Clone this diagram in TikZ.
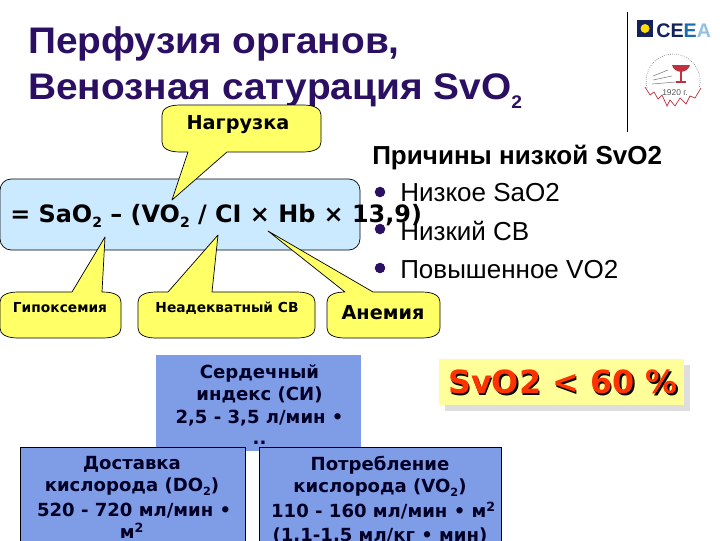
\documentclass[tikz,border=0pt]{standalone}
\usepackage{fontspec}
\setmainfont{Liberation Sans}
\newfontfamily\dejafont{DejaVu Sans}
\newfontfamily\titlefont[FakeStretch=1.05]{Liberation Sans}
\definecolor{titlepurple}{HTML}{2B0F62}
\definecolor{formulablue}{HTML}{CCEAFF}
\definecolor{calloutyellow}{HTML}{FFFF66}
\definecolor{panelblue}{HTML}{7F9CE6}
\definecolor{notepale}{HTML}{FFFF99}
\definecolor{notered}{HTML}{FF3300}
\definecolor{ceeanavy}{HTML}{14215A}
\definecolor{ceeablue}{HTML}{1B6DB3}
\definecolor{ceeasky}{HTML}{8FC1E8}
\definecolor{sealred}{HTML}{C0303F}
\tikzset{
  titletext/.style  = {anchor=base west, inner sep=0pt, text=titlepurple,
                       font=\titlefont\fontsize{26.3}{33}\selectfont\bfseries},
  listtext/.style   = {anchor=base west, inner sep=0pt, font=\fontsize{18.5}{22}\selectfont},
  listdot/.style    = {circle, fill=titlepurple, inner sep=0pt, minimum size=7.5pt},
  callout/.style    = {draw=black, fill=calloutyellow, line width=0.5pt, line join=round},
  tagtext/.style    = {inner sep=0pt, font=\dejafont\fontsize{9.8}{12}\selectfont\bfseries},
  bigtag/.style     = {inner sep=0pt, font=\dejafont\fontsize{13.7}{16}\selectfont\bfseries},
  panel/.style      = {draw=black, fill=panelblue, line width=0.5pt},
  paneltext/.style  = {anchor=north, inner sep=0pt, align=center, text=black!85!blue,
                       font=\dejafont\fontsize{12.85}{15.7}\selectfont\bfseries},
}
% small lowered index
\newcommand\lowtwo[2]{\raisebox{-#2}{\fontsize{#1}{#1}\selectfont 2}}
% body left/right/near edge/far edge, tail ends, tip, corner height
\newcommand\calloutpath[8]{
  \draw[callout] (#7) -- (#6,#3) -- (#2-18,#3) .. controls (#2-6,#3) and (#2,#3+0.4*#8) .. (#2,#3+#8)
      -- (#2,#4-#8) .. controls (#2,#4-0.4*#8) and (#2-6,#4) .. (#2-18,#4)
      -- (#1+18,#4) .. controls (#1+6,#4) and (#1,#4-0.4*#8) .. (#1,#4-#8)
      -- (#1,#3+#8) .. controls (#1,#3+0.4*#8) and (#1+6,#3) .. (#1+18,#3) -- (#5,#3) -- cycle;
}
\begin{document}
\begin{tikzpicture}[x=0.025cm,y=-0.025cm]
  \useasboundingbox (0,0) rectangle (720,540);
  \clip (0,0) rectangle (720,540);
  \fill[white] (0,0) rectangle (720,540);
  % title
  \node[titletext] (title1) at (28,53) {Перфузия органов,};
  \node[titletext] (title2) at (28,99) {Венозная сатурация SvO\lowtwo{13}{6.5pt}};
  % logos
  \draw[line width=0.7pt] (627,12) -- (627,132);
  \fill[ceeanavy] (637,20) rectangle (653,37);
  \fill[yellow!80!orange] (645,28.5) circle (4.5);
  \node[anchor=base west,inner sep=0pt,font=\fontsize{14}{16}\selectfont\bfseries] (ceea) at (656,37)
      {\textcolor{ceeanavy}{CE}\textcolor{ceeablue}{E}\textcolor{ceeasky}{A}};
  \draw[gray,densely dotted,line width=0.5pt] (647,88) arc (165:375:27);
  \draw[gray,line width=0.4pt] (653,76) -- (668,70) (653,80) -- (672,76) (652,84) -- (676,82);
  \fill[sealred] (672,65) .. controls (674,74) and (688,74) .. (690,65) -- cycle;
  \draw[sealred,line width=1pt] (681,70) -- (681,82) (676,82) -- (686,82);
  \draw[sealred,line width=0.5pt] (645,87) -- (650,95) -- (654,92) -- (658,99) -- (662,95) -- (667,106)
      -- (670,100) -- (675,106) -- (680,98) -- (686,104) -- (690,96) -- (695,98) -- (701,88);
  \node[inner sep=0pt,text=gray!70!black,font=\fontsize{6}{7}\selectfont] (year) at (675,93) {1920 г.};
  % formula box and its callouts
  \draw[fill=formulablue,line width=0.5pt,rounded corners=8pt] (0,179) rectangle (360,250);
  \calloutpath{162}{321}{152}{105}{188}{227}{172,200}{-10}
  \calloutpath{0}{121}{292}{338}{72}{102}{105,237}{10}
  \calloutpath{138}{315}{292}{338}{168}{212}{218,235}{10}
  \calloutpath{327}{440}{292}{338}{345}{373}{268,231}{10}
  \node[bigtag] (load) at (238,125) {Нагрузка};
  \node[tagtext] (hypoxia) at (60,308) {Гипоксемия};
  \node[tagtext] (lowco) at (227,308) {Неадекватный СВ};
  \node[bigtag] (anemia) at (383,313) {Анемия};
  % causes
  \node[listtext,font=\fontsize{18.5}{22}\selectfont\bfseries] (causes) at (372,164) {Причины низкой SvO2};
  \foreach \name/\ypos/\dotpos/\txt in {one/201.5/192/Низкое SaO2,two/240/229/Низкий СВ,three/278.5/268/Повышенное VO2}{
    \node[listdot] (dot\name) at (380,\dotpos) {};
    \node[listtext] (cause\name) at (400,\ypos) {\txt};
  }
  % formula goes over the box and the list
  \node[anchor=base west,inner sep=0pt,font=\dejafont\fontsize{17}{20}\selectfont\bfseries] (formula) at (10,222)
      {= SaO\lowtwo{10}{4pt} – (VO\lowtwo{10}{4pt} / CI × Hb × 13,9)};
  % panels
  \fill[panelblue] (156,355) rectangle (361,451);
  \node[paneltext] (citext) at (259.5,364) {Сердечный\\индекс (СИ)\\[1pt]2,5 - 3,5 л/мин •\\[-1pt]..};
  \draw[panel] (20,447) rectangle (245,545);
  \draw[panel] (259,447) rectangle (501,545);
  \node[paneltext] (deliv) at (132,456) {Доставка\\кислорода (DO\lowtwo{8}{3pt})\\[2pt]\hspace*{3pt}520 - 720 мл/мин •\\м\textsuperscript{2}};
  \node[paneltext] (cons) at (380,456) {Потребление\\кислорода (VO\lowtwo{8}{3pt})\\[2pt]\hspace*{5pt}110 - 160 мл/мин • м\textsuperscript{2}\\[1pt](1.1-1.5 мл/кг • мин)};
  % threshold note
  \fill[black!13] (445,365) rectangle (690,411);
  \fill[notepale] (439,359) rectangle (684,405);
  \node[inner sep=0pt,text=black,font=\dejafont\fontsize{22.7}{26}\selectfont\bfseries] (shadow) at (564.5,383.5) {SvO2 < 60 \%};
  \node[inner sep=0pt,text=notered,font=\dejafont\fontsize{22.7}{26}\selectfont\bfseries] (limit) at (563,382) {SvO2 < 60 \%};
\end{tikzpicture}
\end{document}
